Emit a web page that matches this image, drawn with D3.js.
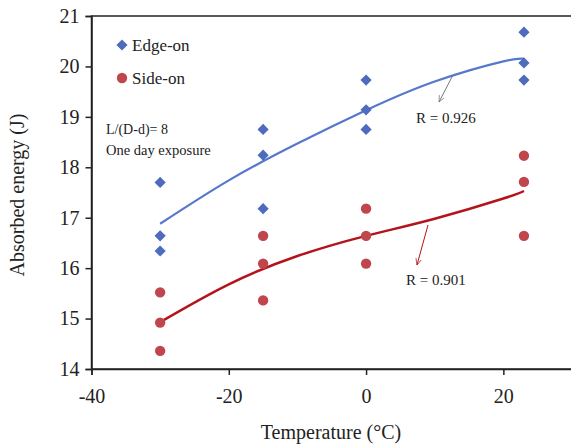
<!DOCTYPE html>
<html>
<head>
<meta charset="utf-8">
<script src="https://cdn.jsdelivr.net/npm/d3@7"></script>
<style>
  body { margin: 0; background: #fff; }
  text { font-family: "Liberation Serif", "Times New Roman", serif; fill: #222; }
</style>
</head>
<body>
<div id="chart"></div>
<script>
// data
var edgeTemps = [-30, -30, -30, -15, -15, -15, 0, 0, 0, 23, 23, 23];
var edgeEnergy = [17.7, 16.64, 16.34, 18.75, 18.24, 17.18, 19.73, 19.14, 18.75, 20.68, 20.07, 19.73];
var sideTemps = [-30, -30, -30, -15, -15, -15, 0, 0, 0, 23, 23, 23];
var sideEnergy = [15.52, 14.92, 14.36, 16.64, 16.09, 15.36, 17.18, 16.64, 16.09, 18.23, 17.71, 16.64];

// fitted curves
var fitTemps = [-30, -20, -10, 0, 10, 20, 23];
var edgeFit = [16.88, 17.74, 18.47, 19.13, 19.7, 20.1, 20.15];
var sideFit = [14.93, 15.68, 16.24, 16.64, 16.98, 17.38, 17.53];

var xTicks = [-40, -20, 0, 20];
var yTicks = [14, 15, 16, 17, 18, 19, 20, 21];

var width = 571, height = 445;
var margin = {left: 91.5, top: 16, right: -1, bottom: 76};

var svg = d3.select("#chart").append("svg")
    .attr("width", width)
    .attr("height", height);

var x = d3.scaleLinear().domain([-40, 30]).range([margin.left, width - margin.right]);
var y = d3.scaleLinear().domain([14, 21]).range([height - margin.bottom, margin.top]);

var blue = "#4e6bbd", blueLine = "#5577cc";
var red = "#c0464d", redLine = "#b3141c";

// frame
svg.append("rect")
    .attr("x", x(-40)).attr("y", y(21))
    .attr("width", x(30) - x(-40)).attr("height", y(14) - y(21))
    .attr("fill", "none").attr("stroke", "#222").attr("stroke-width", 1.5);

// axes
var xAxis = svg.append("g")
    .attr("transform", "translate(0," + y(14) + ")")
    .call(d3.axisBottom(x).tickValues(xTicks).tickSize(6).tickPadding(14).tickFormat(d3.format("d")));
var yAxis = svg.append("g")
    .attr("transform", "translate(" + x(-40) + ",0)")
    .call(d3.axisLeft(y).tickValues(yTicks).tickSize(6).tickPadding(6).tickFormat(d3.format("d")));

[xAxis, yAxis].forEach(function (g) {
    g.select(".domain").attr("stroke", "#222").attr("stroke-width", 1.5);
    g.selectAll(".tick line").attr("stroke", "#222").attr("stroke-width", 1.5);
    g.selectAll("text")
        .style("font-family", "'Liberation Serif', 'Times New Roman', serif")
        .style("font-size", "20px")
        .attr("fill", "#222");
});
xAxis.selectAll("text").text(function (d) { return d < 0 ? "-" + Math.abs(d) : d; });

// axis titles
svg.append("text")
    .attr("x", 331).attr("y", 439)
    .attr("text-anchor", "middle")
    .style("font-size", "20px")
    .text("Temperature (\u00B0C)");
svg.append("text")
    .attr("transform", "translate(24,195) rotate(-90)")
    .attr("text-anchor", "middle")
    .style("font-size", "20px")
    .text("Absorbed energy (J)");

// trend lines
var line = d3.line().curve(d3.curveNatural);
svg.append("path")
    .attr("d", line(fitTemps.map(function (t, i) { return [x(t), y(edgeFit[i])]; })))
    .attr("fill", "none").attr("stroke", blueLine).attr("stroke-width", 2.2);
svg.append("path")
    .attr("d", line(fitTemps.map(function (t, i) { return [x(t), y(sideFit[i])]; })))
    .attr("fill", "none").attr("stroke", redLine).attr("stroke-width", 2.5);

// points
var diamond = d3.symbol().type(d3.symbolDiamond2).size(80);
svg.selectAll(".edge")
    .data(edgeTemps)
    .enter().append("path")
    .attr("class", "edge")
    .attr("d", diamond)
    .attr("transform", function (d, i) { return "translate(" + x(d) + "," + y(edgeEnergy[i]) + ")"; })
    .attr("fill", blue);

svg.selectAll(".side")
    .data(sideTemps)
    .enter().append("circle")
    .attr("class", "side")
    .attr("cx", function (d) { return x(d); })
    .attr("cy", function (d, i) { return y(sideEnergy[i]); })
    .attr("r", 5.2)
    .attr("fill", red);

// legend
svg.append("path").attr("d", diamond).attr("transform", "translate(122,45)").attr("fill", blue);
svg.append("circle").attr("cx", 122).attr("cy", 78).attr("r", 5.2).attr("fill", red);
svg.append("text").attr("x", 132).attr("y", 51).style("font-size", "17px").text("Edge-on");
svg.append("text").attr("x", 132).attr("y", 84).style("font-size", "17px").text("Side-on");

// notes
svg.append("text").attr("x", 106).attr("y", 134).style("font-size", "14px").text("L/(D-d)= 8");
svg.append("text").attr("x", 106).attr("y", 155).style("font-size", "14.5px").text("One day exposure");

// R annotations with arrows
svg.append("defs").selectAll("marker")
    .data([["arrBlue", "#777"], ["arrRed", "#b3141c"]])
    .enter().append("marker")
    .attr("id", function (d) { return d[0]; })
    .attr("viewBox", "0 -5 10 10")
    .attr("refX", 9).attr("refY", 0)
    .attr("markerWidth", 7).attr("markerHeight", 7)
    .attr("orient", "auto")
    .append("path")
    .attr("d", "M0,-4L9,0L0,4")
    .attr("fill", "none")
    .attr("stroke", function (d) { return d[1]; })
    .attr("stroke-width", 1);

svg.append("line")
    .attr("x1", 453).attr("y1", 75).attr("x2", 439).attr("y2", 102)
    .attr("stroke", "#777").attr("stroke-width", 1)
    .attr("marker-end", "url(#arrBlue)");
svg.append("text").attr("x", 416).attr("y", 123).style("font-size", "15px").text("R = 0.926");

svg.append("line")
    .attr("x1", 428).attr("y1", 225).attr("x2", 417).attr("y2", 265)
    .attr("stroke", redLine).attr("stroke-width", 1)
    .attr("marker-end", "url(#arrRed)");
svg.append("text").attr("x", 406).attr("y", 285).style("font-size", "15px").text("R = 0.901");
</script>
</body>
</html>
